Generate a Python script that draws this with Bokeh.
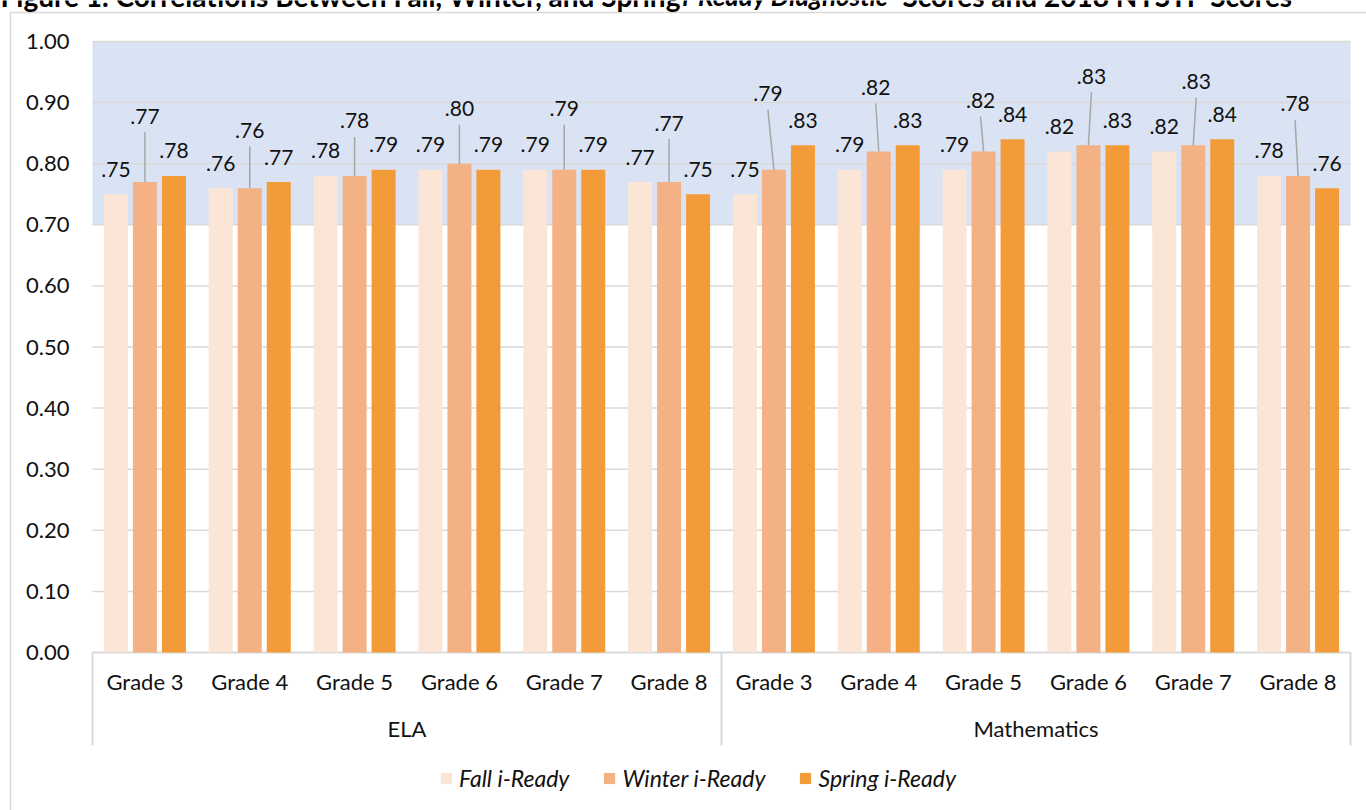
from bokeh.plotting import figure
from bokeh.models import (Range1d, ColumnDataSource, LabelSet, Label, Legend, LegendItem)
from bokeh.core.properties import value
from bokeh.embed import file_html
from bokeh.resources import INLINE

# ---------------- data ----------------
subjects = ["ELA", "Mathematics"]
grades = ["Grade 3", "Grade 4", "Grade 5", "Grade 6", "Grade 7", "Grade 8"]
series_names = ["Fall i-Ready", "Winter i-Ready", "Spring i-Ready"]
fall = [0.75, 0.76, 0.78, 0.79, 0.79, 0.77, 0.75, 0.79, 0.79, 0.82, 0.82, 0.78]
winter = [0.77, 0.76, 0.78, 0.80, 0.79, 0.77, 0.79, 0.82, 0.82, 0.83, 0.83, 0.78]
spring = [0.78, 0.77, 0.79, 0.79, 0.79, 0.75, 0.83, 0.83, 0.84, 0.83, 0.84, 0.76]
y_ticks = [0.0, 0.1, 0.2, 0.3, 0.4, 0.5, 0.6, 0.7, 0.8, 0.9, 1.0]
band_low, band_high = 0.70, 1.00
title_parts = ["Figure 1. Correlations Between Fall, Winter, and Spring",
               "i-Ready Diagnostic", "Scores and 2018 NYSTP Scores"]

# ---------------- layout / style ----------------
W, H = 1366, 810
LEFT, RIGHT, TOP, BOTTOM = 92, 1350, 41, 652     # plot-area edges in page pixels
NG = len(grades)
N = len(subjects) * NG
PX_X = (RIGHT - LEFT) / N
PX_Y = (BOTTOM - TOP) / (y_ticks[-1] - y_ticks[0])
def xs(px):
    return (px - LEFT) / PX_X
def ys(py):
    return (BOTTOM - py) / PX_Y

# winter label lift (px above bar top) and horizontal shift (px) of the callouts
winter_lift_px = [66, 58, 55, 55, 61, 59, 76, 64, 51, 69, 64, 72]
winter_shift_px = [0, 0, 0, 0, 0, 0, -6, -3, -3, 3, 3, -3]
other_lift_px = 25

colors = ["#FBE5D6", "#F4B183", "#F39B38"]
FONT = "Lato"
TXT = "#111111"
GRID = "#D9D9D9"

p = figure(width=W, height=H, x_range=Range1d(xs(0), xs(W)), y_range=Range1d(ys(H), ys(0)),
           output_backend="svg", toolbar_location=None, title=None,
           min_border=0, min_border_left=0, min_border_right=0, min_border_top=0, min_border_bottom=0)
p.xaxis.visible = False
p.yaxis.visible = False
p.xgrid.visible = False
p.ygrid.visible = False
p.outline_line_color = None
p.background_fill_color = "white"
p.border_fill_color = "white"

# shaded band
p.quad(left=[0], right=[N], bottom=[band_low], top=[band_high], fill_color="#DAE3F3", line_color=None)

# horizontal gridlines (the 0.00 line doubles as the category axis line)
p.segment(x0=[0] * len(y_ticks), x1=[N] * len(y_ticks), y0=y_ticks, y1=y_ticks,
          line_color=GRID, line_width=[2] + [1.5] * (len(y_ticks) - 1))

# category separators below the axis
sep_x = [0, NG, N]
p.segment(x0=sep_x, x1=sep_x, y0=[0] * 3, y1=[ys(745)] * 3, line_color=GRID, line_width=2)

# chart-area border (top and left)
p.segment(x0=[xs(10), xs(10)], x1=[xs(W + 20), xs(10)], y0=[ys(12), ys(12)], y1=[ys(12), ys(H + 20)],
          line_color=GRID, line_width=1.5)

# bars
centers = [i + 0.5 for i in range(N)]
offset = 29 / PX_X
bw = 24 / PX_X
renderers = []
for vals, off, c in zip([fall, winter, spring], [-offset, 0, offset], colors):
    src = ColumnDataSource(dict(x=[cx + off for cx in centers], top=vals))
    r = p.vbar(x="x", top="top", width=bw, source=src, fill_color=c, line_color=None)
    renderers.append(r)

# y tick labels
ysrc = ColumnDataSource(dict(x=[xs(69)] * len(y_ticks), y=y_ticks, t=["%.2f" % t for t in y_ticks]))
p.add_layout(LabelSet(x="x", y="y", text="t", source=ysrc, text_align="right", text_baseline="middle",
                      text_font=value(FONT), text_font_size=value("22px"), text_color=TXT))

# category labels
gsrc = ColumnDataSource(dict(x=centers, y=[ys(681)] * N, t=grades * len(subjects)))
p.add_layout(LabelSet(x="x", y="y", text="t", source=gsrc, text_align="center", text_baseline="middle",
                      text_font=value(FONT), text_font_size=value("22px"), text_color=TXT))
ssrc = ColumnDataSource(dict(x=[NG * (k + 0.5) for k in range(len(subjects))],
                             y=[ys(728)] * len(subjects), t=subjects))
p.add_layout(LabelSet(x="x", y="y", text="t", source=ssrc, text_align="center", text_baseline="middle",
                      text_font=value(FONT), text_font_size=value("22px"), text_color=TXT))

# data labels
def fmt(v):
    return ("%.2f" % v)[1:]

lab_x, lab_y, lab_t = [], [], []
for vals, off in [(fall, -offset), (spring, offset)]:
    for cx, v in zip(centers, vals):
        lab_x.append(cx + off)
        lab_y.append(v + other_lift_px / PX_Y)
        lab_t.append(fmt(v))
seg_x0, seg_y0, seg_x1, seg_y1 = [], [], [], []
for cx, v, lift, sh in zip(centers, winter, winter_lift_px, winter_shift_px):
    lab_x.append(cx + sh / PX_X)
    lab_y.append(v + lift / PX_Y)
    lab_t.append(fmt(v))
    seg_x0.append(cx)
    seg_y0.append(v)
    seg_x1.append(cx + sh / PX_X)
    seg_y1.append(v + (lift - 16) / PX_Y)

p.segment(x0=seg_x0, y0=seg_y0, x1=seg_x1, y1=seg_y1, line_color="#A6A6A6", line_width=1.5)

lsrc = ColumnDataSource(dict(x=lab_x, y=lab_y, t=lab_t))
p.add_layout(LabelSet(x="x", y="y", text="t", source=lsrc, text_align="center",
                      text_baseline="middle", text_font=value(FONT), text_font_size=value("21px"),
                      text_color=TXT))

# legend
legend = Legend(items=[LegendItem(label=n, renderers=[r]) for n, r in zip(series_names, renderers)],
                orientation="horizontal", location=(439, 18),
                label_text_font=FONT, label_text_font_size="23px", label_text_font_style="italic",
                label_text_color=TXT, glyph_width=14, glyph_height=14, label_standoff=6,
                spacing=33, border_line_color=None, background_fill_alpha=0,
                padding=6, margin=0)
p.add_layout(legend)

# title (clipped at the top of the page, as in the reference)
title_x_px = [0, 682, 902]
title_sizes = ["28px", "26px", "28px"]
styles = ["bold", "bold italic", "bold"]
for t, xp, st, fs in zip(title_parts, title_x_px, styles, title_sizes):
    p.add_layout(Label(x=xs(xp), y=ys(-5), text=t, text_font=FONT, text_font_size=fs,
                       text_font_style=st, text_color="#000000", text_align="left",
                       text_baseline="alphabetic"))

open("out.html", "w").write(file_html(p, INLINE))
